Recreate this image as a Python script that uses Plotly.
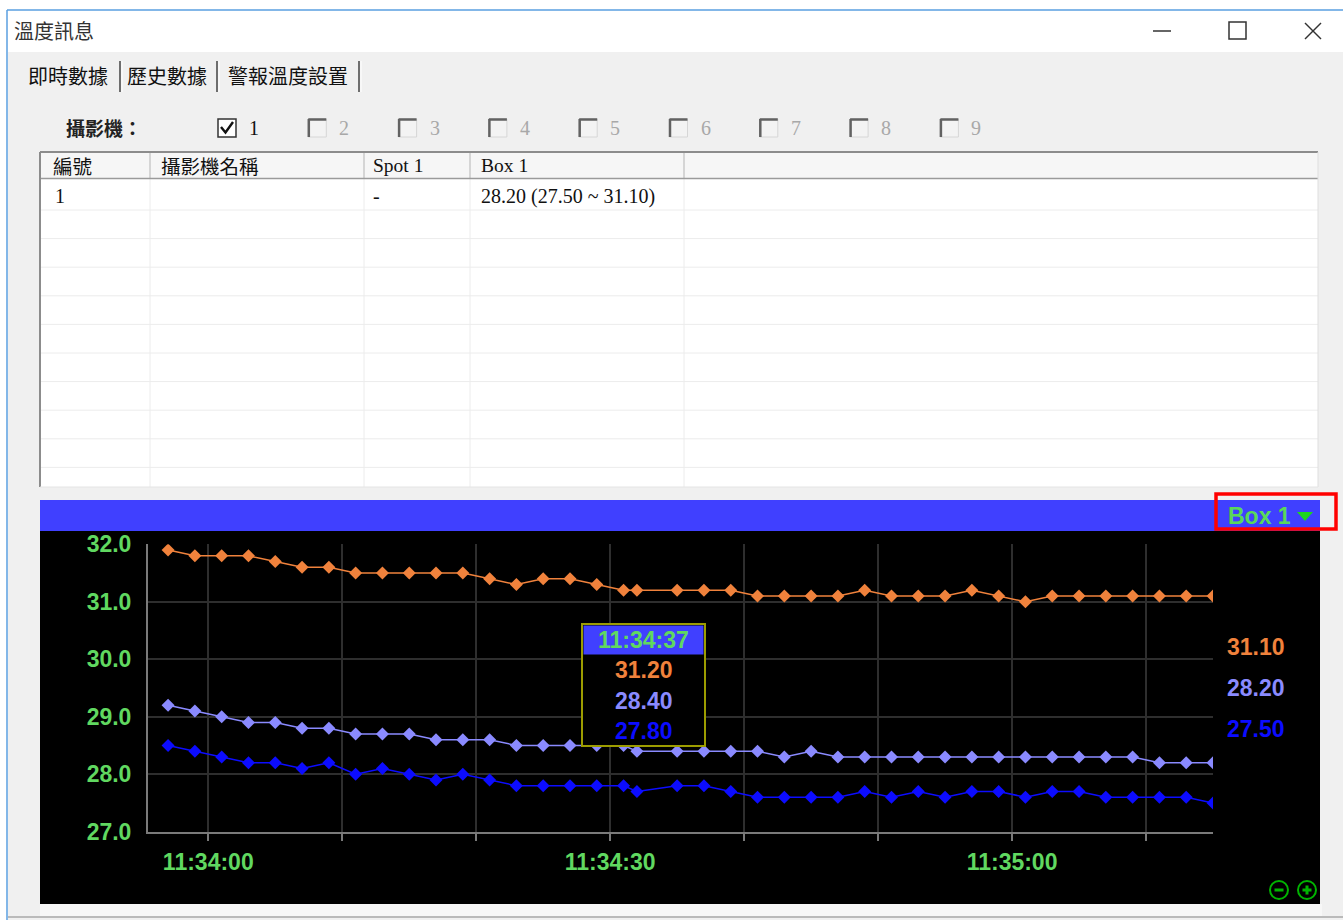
import plotly.graph_objects as go

W, H = 1343, 920
DATE = "2024-01-01 "

# ---------------- data ----------------
times = ["11:33:57", "11:33:59", "11:34:01", "11:34:03", "11:34:05", "11:34:07", "11:34:09",
         "11:34:11", "11:34:13", "11:34:15", "11:34:17", "11:34:19", "11:34:21", "11:34:23",
         "11:34:25", "11:34:27", "11:34:29", "11:34:31", "11:34:32", "11:34:35", "11:34:37",
         "11:34:39", "11:34:41", "11:34:43", "11:34:45", "11:34:47", "11:34:49", "11:34:51",
         "11:34:53", "11:34:55", "11:34:57", "11:34:59", "11:35:01", "11:35:03", "11:35:05",
         "11:35:07", "11:35:09", "11:35:11", "11:35:13", "11:35:15"]

box_max = [31.9, 31.8, 31.8, 31.8, 31.7, 31.6, 31.6, 31.5, 31.5, 31.5,
           31.5, 31.5, 31.4, 31.3, 31.4, 31.4, 31.3, 31.2, 31.2, 31.2,
           31.2, 31.2, 31.1, 31.1, 31.1, 31.1, 31.2, 31.1, 31.1, 31.1,
           31.2, 31.1, 31.0, 31.1, 31.1, 31.1, 31.1, 31.1, 31.1, 31.1]

box_avg = [29.2, 29.1, 29.0, 28.9, 28.9, 28.8, 28.8, 28.7, 28.7, 28.7,
           28.6, 28.6, 28.6, 28.5, 28.5, 28.5, 28.5, 28.5, 28.4, 28.4,
           28.4, 28.4, 28.4, 28.3, 28.4, 28.3, 28.3, 28.3, 28.3, 28.3,
           28.3, 28.3, 28.3, 28.3, 28.3, 28.3, 28.3, 28.2, 28.2, 28.2]

box_min = [28.5, 28.4, 28.3, 28.2, 28.2, 28.1, 28.2, 28.0, 28.1, 28.0,
           27.9, 28.0, 27.9, 27.8, 27.8, 27.8, 27.8, 27.8, 27.7, 27.8,
           27.8, 27.7, 27.6, 27.6, 27.6, 27.6, 27.7, 27.6, 27.7, 27.6,
           27.7, 27.7, 27.6, 27.7, 27.7, 27.6, 27.6, 27.6, 27.6, 27.5]

x_tick_times = ["11:34:00", "11:34:10", "11:34:20", "11:34:30", "11:34:40",
                "11:34:50", "11:35:00", "11:35:10"]
x_tick_text = ["11:34:00", "", "", "11:34:30", "", "", "11:35:00", ""]
y_tick_vals = [27, 28, 29, 30, 31, 32]
y_tick_text = ["27.0", "28.0", "29.0", "30.0", "31.0", "32.0"]

tip_time = "11:34:37"
tip_values = ["31.20", "28.40", "27.80"]
latest_values = ["31.10", "28.20", "27.50"]

window_title = "溫度訊息"
tab_labels = ["即時數據", "歷史數據", "警報溫度設置"]
camera_caption = "攝影機："
camera_labels = ["1", "2", "3", "4", "5", "6", "7", "8", "9"]
table_headers = ["編號", "攝影機名稱", "Spot 1", "Box 1"]
table_row = ["1", "", "-", "28.20 (27.50 ~ 31.10)"]
series_name = "Box 1"

# ---------------- style ----------------
ORANGE = "#f0823c"
LAV = "#8a8aff"
BLUE = "#0c0cff"
GREEN = "#60d860"
SANS = "Liberation Sans, Arial, sans-serif"
SERIF = "Liberation Serif, Times New Roman, serif"
CJK = "Noto Sans CJK TC, Noto Sans CJK SC, sans-serif"
NUM = 23


def X(px):
    return px / W


def Y(py):
    return 1 - py / H


shapes = []
annotations = []


def rect(x0, y0, x1, y1, fill=None, line=None, lw=0, layer="below"):
    shapes.append(dict(type="rect", xref="paper", yref="paper",
                       x0=X(x0), x1=X(x1), y0=Y(y1), y1=Y(y0),
                       fillcolor=fill or "rgba(0,0,0,0)",
                       line=dict(color=line or "rgba(0,0,0,0)", width=lw),
                       layer=layer))


def seg(x0, y0, x1, y1, color, lw=1, layer="below"):
    shapes.append(dict(type="line", xref="paper", yref="paper",
                       x0=X(x0), x1=X(x1), y0=Y(y0), y1=Y(y1),
                       line=dict(color=color, width=lw), layer=layer))


def poly(pts, fill=None, color=None, lw=0, closed=True, layer="below"):
    d = "M " + " L ".join("%f %f" % (X(a), Y(b)) for a, b in pts)
    if closed:
        d += " Z"
    shapes.append(dict(type="path", xref="paper", yref="paper", path=d,
                       fillcolor=fill or "rgba(0,0,0,0)",
                       line=dict(color=color or "rgba(0,0,0,0)", width=lw),
                       layer=layer))


def circ(cx, cy, r, color, lw, layer="above"):
    shapes.append(dict(type="circle", xref="paper", yref="paper",
                       x0=X(cx - r), x1=X(cx + r), y0=Y(cy + r), y1=Y(cy - r),
                       line=dict(color=color, width=lw), layer=layer))


def txt(x, y, s, size, color, family=SANS, xanchor="left", bold=False):
    annotations.append(dict(xref="paper", yref="paper", x=X(x), y=Y(y),
                            text=("<b>%s</b>" % s) if bold else s,
                            showarrow=False, xanchor=xanchor, yanchor="middle",
                            borderpad=0,
                            font=dict(size=size, color=color, family=family)))


# ---------------- window chrome ----------------
rect(8, 52, W, H, fill="#f0f0f0")
seg(7, 10, W, 10, "#5a9fe0", 1.5)
seg(7, 10, 7, H, "#5a9fe0", 1.5)
txt(13, 31, window_title, 20, "#333333", family=CJK)
# min / max / close
seg(1153, 31, 1171, 31, "#333333", 1.5)
rect(1229, 22, 1246, 39, line="#333333", lw=1.5)
seg(1305, 23, 1321, 39, "#333333", 1.5)
seg(1305, 39, 1321, 23, "#333333", 1.5)

# tabs
tab_x = [27, 126, 227]
for s, tx in zip(tab_labels, tab_x):
    txt(tx, 75, s, 20, "#111111", family=CJK)
for sx in [120, 217, 359]:
    seg(sx, 61, sx, 92, "#6e6e6e", 2)
    seg(sx + 2, 61, sx + 2, 92, "#ffffff", 1)

# camera checkboxes
txt(65, 128, "<b>" + camera_caption + "</b>", 19, "#222222", family=CJK)
for i, lab in enumerate(camera_labels):
    bx = 218 + i * 90.3
    if i == 0:
        rect(bx, 119, bx + 18, 137, fill="#ffffff", line="#333333", lw=1.5)
        poly([(bx + 3, 127), (bx + 7.5, 132.5), (bx + 15, 122)], color="#111111", lw=2.4, closed=False)
        txt(bx + 30, 128, lab, 20, "#111111", family=SERIF)
    else:
        rect(bx, 119, bx + 18, 137, fill="#f3f3f3", line="#d6d6d6", lw=1)
        seg(bx, 119.5, bx + 18, 119.5, "#626262", 2.5)
        seg(bx + 0.5, 119, bx + 0.5, 137, "#626262", 2.5)
        txt(bx + 30, 128, lab, 20, "#a8a8a8", family=SERIF)

# table
rect(40, 152, 1318, 487, fill="#ffffff")
rect(41, 153, 1318, 178, fill="#f6f6f6")
col_x = [150, 364, 470, 684]
for cx in col_x:
    seg(cx, 153, cx, 178, "#b4b4b4", 1)
    seg(cx, 179, cx, 487, "#ececec", 1)
for k in range(10):
    ry = 210 + k * 28.6
    seg(41, ry, 1318, ry, "#ececec", 1)
seg(40, 152, 1318, 152, "#8c8c8c", 2)
seg(40, 152, 40, 487, "#8c8c8c", 2)
seg(41, 178.5, 1318, 178.5, "#9a9a9a", 1.5)
seg(1318, 152, 1318, 487, "#dedede", 1)
seg(40, 487, 1318, 487, "#e4e4e4", 1)

head_x = [52, 160, 372, 480]
for s, hx in zip(table_headers, head_x):
    fam = CJK if any(ord(c) > 255 for c in s) else SERIF
    txt(hx, 165, s, 19.5 if fam == CJK else 19.5, "#111111", family=fam)
row_x = [54, 160, 372, 480]
for s, hx in zip(table_row, row_x):
    if s:
        txt(hx, 196, s, 20, "#111111", family=SERIF)

# chart panel
rect(40, 500, 1320, 531, fill="#4040ff")
rect(40, 531, 1320, 904, fill="#000000")
rect(40, 904, 1322, 916, fill="#f7f7f7")
seg(8, 917, W, 917, "#a8a8a8", 1.5)
rect(1216, 494, 1336, 529, line="#ff0000", lw=3.5, layer="above")
txt(1227, 516, series_name, NUM, "#5ad85a", bold=True)
poly([(1297, 512), (1313, 512), (1305, 521)], fill="#1ed41e", layer="above")

# latest values at right
for s, c, yy in zip(latest_values, [ORANGE, LAV, BLUE], [647, 688, 729]):
    txt(1226, yy, s, NUM, c, bold=True)

# tooltip
rect(582, 624, 705, 746, fill="#000000", line="#9c9c00", lw=2, layer="above")
rect(583.5, 625.5, 703.5, 654.5, fill="#4040ff", layer="above")
txt(643.5, 640, tip_time, NUM, GREEN, xanchor="center", bold=True)
for s, c, yy in zip(tip_values, [ORANGE, LAV, BLUE], [670, 701, 731]):
    txt(643.5, yy, s, NUM, c, xanchor="center", bold=True)

# zoom icons
circ(1279, 890, 9, "#00b400", 2)
seg(1274.5, 890, 1283.5, 890, "#00b400", 3, layer="above")
circ(1307, 890, 9, "#00b400", 2)
seg(1302.5, 890, 1311.5, 890, "#00b400", 3, layer="above")
seg(1307, 885.5, 1307, 894.5, "#00b400", 3, layer="above")

# ---------------- traces ----------------
xs = [DATE + t for t in times]
fig = go.Figure()
for vals, col in [(box_min, BLUE), (box_avg, LAV), (box_max, ORANGE)]:
    fig.add_trace(go.Scatter(x=xs, y=vals, mode="lines+markers",
                             line=dict(color=col, width=1.5),
                             marker=dict(symbol="diamond", size=10, color=col),
                             hoverinfo="skip", showlegend=False))

fig.update_layout(
    width=W, height=H, autosize=False,
    margin=dict(l=0, r=0, t=0, b=0, pad=0, autoexpand=False),
    paper_bgcolor="#ffffff", plot_bgcolor="rgba(0,0,0,0)",
    showlegend=False, hovermode=False,
    font=dict(family=SANS),
    shapes=shapes, annotations=annotations,
    xaxis=dict(
        type="date",
        domain=[X(148), X(1213)],
        range=[DATE + "11:33:55.5", DATE + "11:35:15"],
        tickmode="array",
        tickvals=[DATE + t for t in x_tick_times],
        ticktext=x_tick_text,
        showgrid=True, gridcolor="#2e2e2e", gridwidth=2,
        showline=True, linecolor="#7a7a7a", linewidth=2,
        ticks="outside", ticklen=7, tickwidth=2, tickcolor="#7a7a7a",
        tickfont=dict(size=NUM, color=GREEN, family=SANS, weight="bold"),
        ticklabelstandoff=2, automargin=False,
        zeroline=False, fixedrange=True,
    ),
    yaxis=dict(
        domain=[Y(831.7), Y(544.3)],
        range=[27, 32],
        tickmode="array",
        tickvals=y_tick_vals,
        ticktext=y_tick_text,
        showgrid=True, gridcolor="#2e2e2e", gridwidth=2,
        showline=True, linecolor="#7a7a7a", linewidth=2,
        ticks="",
        tickfont=dict(size=NUM, color=GREEN, family=SANS, weight="bold"),
        ticklabelstandoff=10, automargin=False,
        zeroline=False, fixedrange=True,
    ),
)

fig.write_html("out.html", config={"displayModeBar": False, "responsive": False},
               post_script="document.body.style.margin='0px';document.body.style.overflow='hidden';")
